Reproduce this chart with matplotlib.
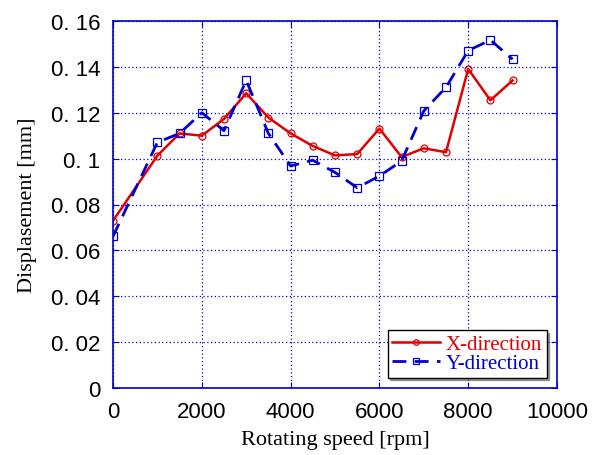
import matplotlib
matplotlib.use("Agg")
import matplotlib.pyplot as plt

# === data ===
rpm = [0, 1000, 1500, 2000, 2500, 3000, 3500, 4000, 4500, 5000,
       5500, 6000, 6500, 7000, 7500, 8000, 8500, 9000]
x_dir = [0.0729, 0.1013, 0.1110, 0.1100, 0.1173, 0.1285, 0.1179, 0.1110, 0.1055, 0.1014,
         0.1020, 0.1131, 0.1007, 0.1045, 0.1028, 0.1391, 0.1254, 0.1341]
y_dir = [0.0661, 0.1071, 0.1110, 0.1200, 0.1122, 0.1341, 0.1110, 0.0968, 0.0993, 0.0940,
         0.0873, 0.0924, 0.0990, 0.1208, 0.1311, 0.1471, 0.1517, 0.1433]

yticks = [0, 0.02, 0.04, 0.06, 0.08, 0.1, 0.12, 0.14, 0.16]
ytick_labels = ["0", "0. 02", "0. 04", "0. 06", "0. 08", "0. 1", "0. 12", "0. 14", "0. 16"]
xticks = [0, 2000, 4000, 6000, 8000, 10000]

tick_font = "Liberation Sans"
label_font = "Liberation Serif"

fig = plt.figure(figsize=(5.92, 4.56), dpi=100)
ax = fig.add_axes([113 / 592, 1 - 389 / 456, 444 / 592, 367 / 456])

ax.plot(rpm, x_dir, color="#e00000", lw=1.8, marker="o", ms=5,
        mfc="none", mec="#e00000", mew=0.9, label="X-direction")
ax.plot(rpm, y_dir, color="#0000cc", lw=2.0, ls=(0, (5, 3)), marker="s", ms=6,
        mfc="none", mec="#0000cc", mew=0.9, label="Y-direction")

ax.set_xlim(0, 10000)
ax.set_ylim(0, 0.16)
ax.set_xticks(xticks)
ax.set_yticks(yticks)
ax.set_yticklabels(ytick_labels)
ax.grid(True, color="#0000cc", ls=(0, (1, 2)), lw=0.9)
for s in ax.spines.values():
    s.set_color("#0000cc")
    s.set_linewidth(1.2)
ax.tick_params(direction="in", top=True, right=True, color="#0000cc", length=4,
               labelsize=16, pad=9)
for lab in ax.get_xticklabels() + ax.get_yticklabels():
    lab.set_family(tick_font)

ax.set_xlabel("Rotating speed [rpm]", family=label_font, fontsize=16, labelpad=6)
ax.set_ylabel("Displasement [mm]", family=label_font, fontsize=16, labelpad=10)

leg = ax.legend(loc="lower right", prop={"family": label_font, "size": 15},
                fancybox=False, shadow=True, edgecolor="black", framealpha=1,
                handlelength=2.3, borderpad=0.2, labelspacing=0.0,
                handletextpad=0.3, borderaxespad=0.5, markerscale=0.8)
leg.get_frame().set_linewidth(1.0)
leg.get_texts()[0].set_color("#e00000")
leg.get_texts()[1].set_color("#0000cc")

plt.savefig("out.png", dpi=100)
